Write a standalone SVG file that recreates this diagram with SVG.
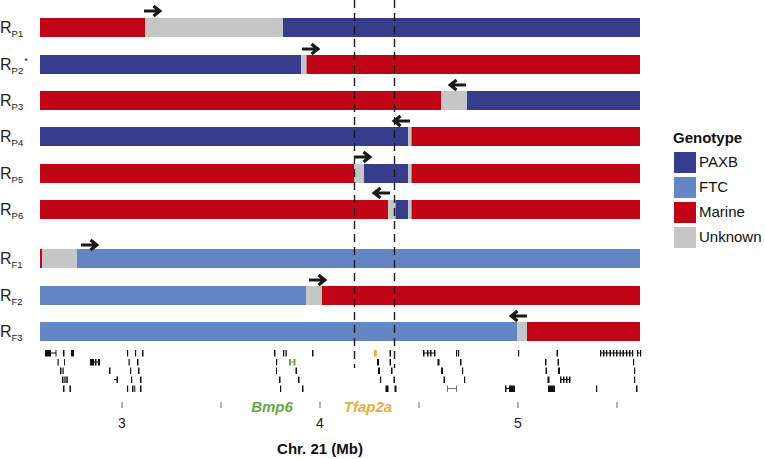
<svg xmlns="http://www.w3.org/2000/svg" xmlns:xlink="http://www.w3.org/1999/xlink" width="765" height="459" viewBox="0 0 765 459">
<style>
.pb{fill:#383c8c}.ft{fill:#6486c5}.mr{fill:#c10516}.uk{fill:#c6c6c6}
.lab{font-family:"Liberation Sans",Arial,sans-serif;fill:#222}
.R{font-size:16px}.sub{font-size:9.5px}
.g{fill:#111}
.leg{font-family:"Liberation Sans",Arial,sans-serif;font-size:15px;fill:#111}
.ax{font-family:"Liberation Sans",Arial,sans-serif;font-size:14px;fill:#222;text-anchor:middle}
.dash{stroke:#1a1a1a;stroke-width:1.4;stroke-dasharray:8 5;fill:none}
.arr{stroke:#1a1a1a;stroke-width:3.2;fill:none}
.tick{stroke:#666;stroke-width:1}
</style>
<defs>
<path id="ar" d="M0 0 H15 M9.5 -5 L15.8 0 L9.5 5"/>
</defs>

<g id="RP1">
<rect class="mr" x="40" y="18" width="105" height="19"/><rect class="uk" x="145" y="18" width="138" height="19"/><rect class="pb" x="283" y="18" width="357" height="19"/>
<text class="lab R" x="0" y="33">R<tspan class="sub" dy="3.5">P1</tspan></text>
</g>
<g id="RP2">
<rect class="pb" x="40" y="55" width="261" height="19"/><rect class="uk" x="301" y="55" width="5.5" height="19"/><rect class="mr" x="306.5" y="55" width="333.5" height="19"/>
<text class="lab R" x="0" y="70">R<tspan class="sub" dy="3.5">P2</tspan><tspan class="sub" dy="-10" dx="1">*</tspan></text>
</g>
<g id="RP3">
<rect class="mr" x="40" y="91" width="401" height="19"/><rect class="uk" x="441" y="91" width="26" height="19"/><rect class="pb" x="467" y="91" width="173" height="19"/>
<text class="lab R" x="0" y="106">R<tspan class="sub" dy="3.5">P3</tspan></text>
</g>
<g id="RP4">
<rect class="pb" x="40" y="127" width="368" height="19"/><rect class="uk" x="408" y="127" width="3.5" height="19"/><rect class="mr" x="411.5" y="127" width="228.5" height="19"/>
<text class="lab R" x="0" y="142">R<tspan class="sub" dy="3.5">P4</tspan></text>
</g>
<g id="RP5">
<rect class="mr" x="40" y="164" width="314" height="19"/><rect class="uk" x="354" y="164" width="10" height="19"/><rect class="pb" x="364" y="164" width="44" height="19"/><rect class="uk" x="408" y="164" width="3.5" height="19"/><rect class="mr" x="411.5" y="164" width="228.5" height="19"/>
<text class="lab R" x="0" y="179">R<tspan class="sub" dy="3.5">P5</tspan></text>
</g>
<g id="RP6">
<rect class="mr" x="40" y="200" width="348" height="19"/><rect class="uk" x="388" y="200" width="7.5" height="19"/><rect class="pb" x="395.5" y="200" width="12.5" height="19"/><rect class="uk" x="408" y="200" width="3.5" height="19"/><rect class="mr" x="411.5" y="200" width="228.5" height="19"/>
<text class="lab R" x="0" y="215">R<tspan class="sub" dy="3.5">P6</tspan></text>
</g>
<g id="RF1">
<rect class="mr" x="40" y="249" width="2" height="19"/><rect class="uk" x="42" y="249" width="35" height="19"/><rect class="ft" x="77" y="249" width="563" height="19"/>
<text class="lab R" x="0" y="264">R<tspan class="sub" dy="3.5">F1</tspan></text>
</g>
<g id="RF2">
<rect class="ft" x="40" y="286" width="266" height="19"/><rect class="uk" x="306" y="286" width="16" height="19"/><rect class="mr" x="322" y="286" width="318" height="19"/>
<text class="lab R" x="0" y="301">R<tspan class="sub" dy="3.5">F2</tspan></text>
</g>
<g id="RF3">
<rect class="ft" x="40" y="322" width="477" height="19"/><rect class="uk" x="517" y="322" width="10" height="19"/><rect class="mr" x="527" y="322" width="113" height="19"/>
<text class="lab R" x="0" y="337">R<tspan class="sub" dy="3.5">F3</tspan></text>
</g>

<g id="connectors">
<line class="dash" x1="354.5" y1="0" x2="354.5" y2="368"/>
<line class="dash" x1="394.5" y1="0" x2="394.5" y2="368"/>
<use class="arr" xlink:href="#ar" href="#ar" transform="translate(144,11)"/>
<use class="arr" xlink:href="#ar" href="#ar" transform="translate(302,49)"/>
<use class="arr" xlink:href="#ar" href="#ar" transform="translate(466,85) scale(-1,1)"/>
<use class="arr" xlink:href="#ar" href="#ar" transform="translate(410,121) scale(-1,1)"/>
<use class="arr" xlink:href="#ar" href="#ar" transform="translate(354,157)"/>
<use class="arr" xlink:href="#ar" href="#ar" transform="translate(390,193) scale(-1,1)"/>
<use class="arr" xlink:href="#ar" href="#ar" transform="translate(81,245)"/>
<use class="arr" xlink:href="#ar" href="#ar" transform="translate(309,280)"/>
<use class="arr" xlink:href="#ar" href="#ar" transform="translate(527,316) scale(-1,1)"/>
</g>

<g id="genes">
<!-- row 1 -->
<rect class="g" x="45" y="350" width="6" height="6.5"/><rect class="g" x="51" y="352.5" width="5" height="1"/><rect class="g" x="55.5" y="350" width="1" height="6.5"/>
<rect class="g" x="63" y="350" width="1.5" height="6.5"/><rect class="g" x="71" y="350" width="3" height="6.5"/>
<rect class="g" x="127" y="350" width="1.2" height="6.5"/><rect class="g" x="135" y="350" width="1.2" height="6.5"/><rect class="g" x="142" y="350" width="1.5" height="6.5"/>
<rect class="g" x="274" y="350" width="1.5" height="6.5"/><rect class="g" x="283" y="350" width="1.3" height="6.5"/><rect class="g" x="285.5" y="350" width="1.3" height="6.5"/><rect class="g" x="312" y="350" width="1.5" height="6.5"/>
<rect x="374" y="350" width="2.8" height="6.5" fill="#e8ad3c"/>
<rect class="g" x="389.5" y="350" width="1.5" height="6.5"/>
<rect class="g" x="423" y="350" width="1.5" height="6.5"/><rect class="g" x="427" y="350" width="1.5" height="6.5"/><rect class="g" x="430" y="350" width="1.5" height="6.5"/><rect class="g" x="434" y="350" width="1.5" height="6.5"/><rect class="g" x="423" y="352.5" width="12" height="1"/>
<rect class="g" x="456" y="350" width="1.2" height="6.5"/><rect class="g" x="458" y="350" width="1.2" height="6.5"/>
<rect class="g" x="518" y="350" width="1.2" height="6.5"/><rect class="g" x="556.5" y="350" width="1.5" height="6.5"/>
<rect class="g" x="600" y="352.5" width="33" height="1"/>
<rect class="g" x="600" y="350" width="1.3" height="6.5"/><rect class="g" x="603" y="350" width="1.5" height="6.5"/><rect class="g" x="606" y="350" width="1.3" height="6.5"/><rect class="g" x="609.5" y="350" width="1.5" height="6.5"/><rect class="g" x="613" y="350" width="1.3" height="6.5"/><rect class="g" x="616" y="350" width="1.5" height="6.5"/><rect class="g" x="619.5" y="350" width="1.3" height="6.5"/><rect class="g" x="622.5" y="350" width="1.5" height="6.5"/><rect class="g" x="626" y="350" width="1.3" height="6.5"/><rect class="g" x="629" y="350" width="1.5" height="6.5"/><rect class="g" x="632" y="350" width="1.3" height="6.5"/>
<rect class="g" x="637" y="350" width="1.2" height="6.5"/><rect class="g" x="640" y="350" width="1.2" height="6.5"/><rect class="g" x="637" y="352.5" width="4" height="1"/>
<!-- row 2 -->
<rect class="g" x="57.5" y="359" width="1.2" height="6.5"/><rect class="g" x="64" y="359" width="0.9" height="6.5"/>
<rect class="g" x="90" y="359" width="4" height="6.5"/><rect class="g" x="95" y="359" width="1.5" height="6.5"/><rect class="g" x="98" y="359" width="2" height="6.5"/><rect class="g" x="94" y="361.5" width="5" height="1"/>
<rect class="g" x="128.5" y="359" width="1.2" height="6.5"/><rect class="g" x="137" y="359" width="1.5" height="6.5"/>
<rect class="g" x="276" y="359" width="1.2" height="6.5"/>
<rect x="289" y="359" width="2" height="6.5" fill="#6aa843"/><rect x="291" y="361.5" width="3" height="1" fill="#6aa843"/><rect x="293.5" y="359" width="2" height="6.5" fill="#6aa843"/>
<rect class="g" x="377" y="359" width="2" height="6.5"/><rect class="g" x="389.5" y="359" width="1.5" height="6.5"/>
<rect class="g" x="437.5" y="359" width="2" height="6.5"/><rect class="g" x="460" y="359" width="1.5" height="6.5"/>
<rect class="g" x="545" y="359" width="1.5" height="6.5"/><rect class="g" x="557.5" y="359" width="1.5" height="6.5"/><rect class="g" x="633" y="359" width="1.2" height="6.5"/>
<!-- row 3 -->
<rect class="g" x="60" y="367.5" width="1.5" height="6.5"/><rect class="g" x="62.5" y="367.5" width="1.2" height="6.5"/>
<rect class="g" x="109" y="367.5" width="1.5" height="6.5"/><rect class="g" x="130" y="367.5" width="1.2" height="6.5"/><rect class="g" x="138" y="367.5" width="1.5" height="6.5"/>
<rect class="g" x="276" y="367.5" width="1" height="6.5"/><rect class="g" x="295.5" y="367.5" width="1.5" height="6.5"/>
<rect class="g" x="378" y="367.5" width="2" height="6.5"/><rect class="g" x="391" y="367.5" width="1.5" height="6.5"/>
<rect class="g" x="441" y="367.5" width="2" height="6.5"/><rect class="g" x="462" y="367.5" width="1.2" height="6.5"/>
<rect class="g" x="545.5" y="367.5" width="1.5" height="6.5"/><rect class="g" x="558" y="367.5" width="2" height="6.5"/><rect class="g" x="634" y="367.5" width="1.2" height="6.5"/>
<!-- row 4 -->
<rect class="g" x="62" y="376.5" width="1.5" height="6.5"/><rect class="g" x="64.3" y="376.5" width="1.3" height="6.5"/><rect class="g" x="66.3" y="376.5" width="1.5" height="6.5"/>
<rect class="g" x="114" y="379" width="3" height="1"/><rect class="g" x="116.5" y="376.5" width="1.5" height="6.5"/>
<rect class="g" x="131" y="376.5" width="1.2" height="6.5"/><rect class="g" x="140" y="376.5" width="1.5" height="6.5"/>
<rect class="g" x="279" y="376.5" width="1.5" height="6.5"/><rect class="g" x="298" y="376.5" width="1.5" height="6.5"/>
<rect class="g" x="380" y="376.5" width="1.2" height="6.5"/><rect class="g" x="393.5" y="376.5" width="1.5" height="6.5"/>
<rect class="g" x="443.5" y="376.5" width="1.5" height="6.5"/><rect class="g" x="464" y="376.5" width="1.2" height="6.5"/>
<rect class="g" x="547.5" y="376.5" width="2" height="6.5"/>
<rect class="g" x="560" y="376.5" width="1.5" height="6.5"/><rect class="g" x="563" y="376.5" width="1.5" height="6.5"/><rect class="g" x="566" y="376.5" width="1.5" height="6.5"/><rect class="g" x="569" y="376.5" width="1.5" height="6.5"/><rect class="g" x="560" y="379" width="10" height="1"/>
<rect class="g" x="634" y="376.5" width="1.2" height="6.5"/>
<!-- row 5 -->
<rect class="g" x="63" y="385.5" width="1.5" height="6.5"/><rect class="g" x="69.5" y="385.5" width="1.5" height="6.5"/>
<rect class="g" x="127" y="385.5" width="1.2" height="6.5"/><rect class="g" x="132" y="385.5" width="1.5" height="6.5"/><rect class="g" x="134.3" y="385.5" width="1" height="6.5"/><rect class="g" x="140" y="385.5" width="1.5" height="6.5"/>
<rect class="g" x="280" y="385.5" width="1.2" height="6.5"/><rect class="g" x="302" y="385.5" width="1.5" height="6.5"/>
<rect class="g" x="385.5" y="385.5" width="3" height="6.5"/><rect class="g" x="394.5" y="385.5" width="2" height="6.5"/>
<rect x="447" y="385.5" width="1" height="6.5" fill="#777"/><rect x="447" y="388" width="10" height="1" fill="#777"/><rect x="456" y="385.5" width="1" height="6.5" fill="#777"/>
<rect class="g" x="505" y="385.5" width="1.5" height="6.5"/><rect class="g" x="505" y="388" width="5" height="1"/><rect class="g" x="509" y="385.5" width="6" height="6.5"/>
<rect class="g" x="548" y="385.5" width="7" height="6.5"/>
<rect class="g" x="596" y="385.5" width="1.2" height="6.5"/><rect class="g" x="636" y="385.5" width="1.5" height="6.5"/>
</g>

<g id="axis">
<line class="tick" x1="122" y1="402" x2="122" y2="408"/>
<line class="tick" x1="221" y1="402" x2="221" y2="408"/>
<line class="tick" x1="320" y1="402" x2="320" y2="408"/>
<line class="tick" x1="419" y1="402" x2="419" y2="408"/>
<line class="tick" x1="518" y1="402" x2="518" y2="408"/>
<line class="tick" x1="617" y1="402" x2="617" y2="408"/>
<text class="ax" x="122" y="428">3</text>
<text class="ax" x="320" y="428">4</text>
<text class="ax" x="518" y="428">5</text>
<text class="ax" x="320" y="454" style="font-size:15px;font-weight:bold;fill:#111">Chr. 21 (Mb)</text>
<text class="ax" x="272" y="412" style="font-size:15px;font-weight:bold;font-style:italic;fill:#6aa843">Bmp6</text>
<text class="ax" x="368" y="412" style="font-size:15px;font-weight:bold;font-style:italic;fill:#e8ad3c">Tfap2a</text>
</g>

<g id="legend">
<text class="leg" x="673" y="143" style="font-weight:bold">Genotype</text>
<rect class="pb" x="674" y="152" width="22" height="21"/>
<rect class="ft" x="674" y="177" width="22" height="21"/>
<rect class="mr" x="674" y="202" width="22" height="21"/>
<rect class="uk" x="674" y="227" width="22" height="21"/>
<text class="leg" x="699" y="167">PAXB</text>
<text class="leg" x="699" y="192">FTC</text>
<text class="leg" x="699" y="217">Marine</text>
<text class="leg" x="699" y="242">Unknown</text>
</g>
</svg>
